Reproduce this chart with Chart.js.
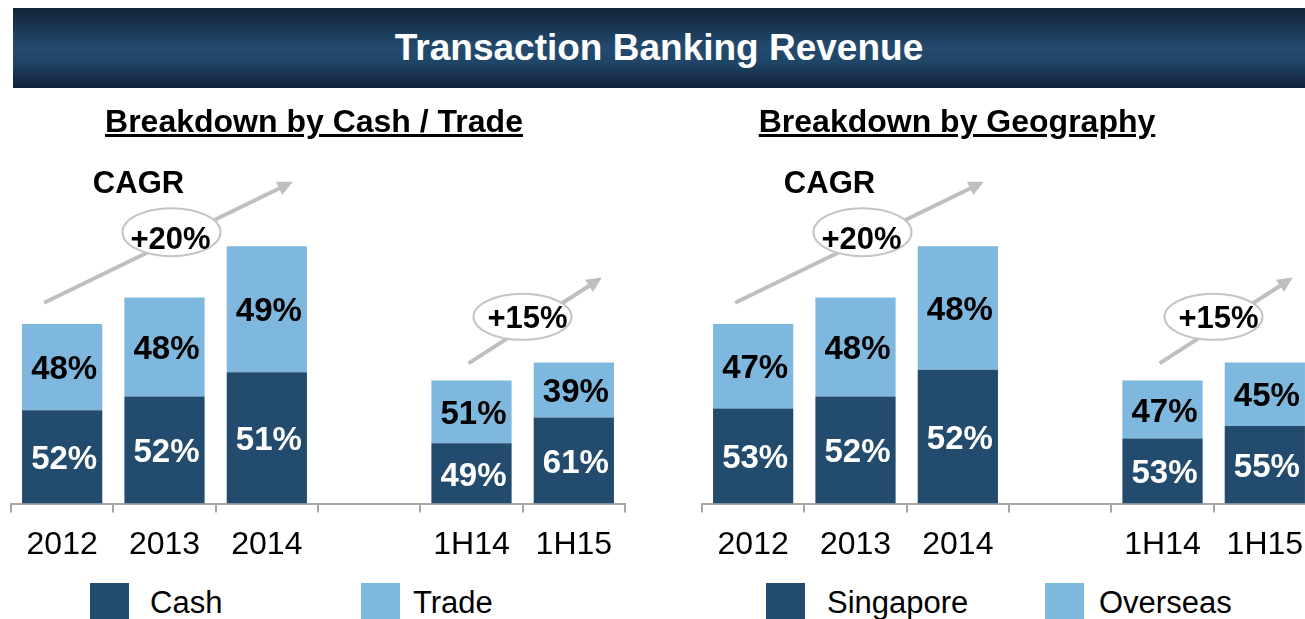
<!DOCTYPE html>
<html>
<head>
<meta charset="utf-8">
<title>Transaction Banking Revenue</title>
<script src="https://cdn.jsdelivr.net/npm/chart.js@4.4.1/dist/chart.umd.min.js"></script>
<style>
    body {
        margin: 0;
        width: 1305px;
        height: 619px;
        overflow: hidden;
        position: relative;
        background: #fff;
        font-family: 'Liberation Sans', Arial, sans-serif;
    }
    .banner {
        position: absolute;
        left: 13px;
        top: 8px;
        width: 1292px;
        height: 80px;
        line-height: 80px;
        text-align: center;
        color: #fff;
        font-size: 37px;
        font-weight: bold;
        background: linear-gradient(to bottom, #132236 0%, #1c3c5b 30%, #234b6f 50%, #1f4567 68%, #11203a 100%);
    }
    .subtitle {
        position: absolute;
        top: 103px;
        width: 600px;
        text-align: center;
        font-size: 32px;
        line-height: 36px;
        font-weight: bold;
        text-decoration: underline;
        color: #000;
        z-index: 2;
    }
    .chart-box {
        position: absolute;
        top: 99px;
    }
    .legend-item {
        position: absolute;
        top: 583px;
        height: 39px;
        font-size: 31px;
        line-height: 36px;
        color: #000;
        white-space: nowrap;
    }
    .legend-item .swatch {
        position: absolute;
        left: 0;
        top: 0;
        width: 39px;
        height: 39px;
    }
    .legend-item span {
        position: absolute;
        top: 2px;
    }
</style>
</head>
<body>
<div class="banner">Transaction Banking Revenue</div>

<div class="subtitle" style="left:14px">Breakdown by Cash / Trade</div>
<div class="subtitle" style="left:657px">Breakdown by Geography</div>

<div class="chart-box" style="left:10px"><canvas id="cashTradeChart" width="616" height="478"></canvas></div>
<div class="chart-box" style="left:701px"><canvas id="geoChart" width="616" height="478"></canvas></div>

<div id="legendCashTrade"></div>
<div id="legendGeo"></div>

<script>
// Period labels (blank slot separates full years from half years)
const periods = ['2012', '2013', '2014', '', '1H14', '1H15'];

// Total transaction banking revenue per period (S$m, estimated)
const totalRevenue = [1190, 1365, 1705, null, 815, 935];

// Share of total, %
const cashShare = [52, 52, 51, null, 49, 61];
const tradeShare = [48, 48, 49, null, 51, 39];
const singaporeShare = [53, 52, 52, null, 53, 55];
const overseasShare = [47, 48, 48, null, 47, 45];

const DARK = '#224b6e';
const LIGHT = '#7fb8de';
const FONT = "'Liberation Sans', Arial, sans-serif";

function segment(shares) {
    return totalRevenue.map((t, i) => (t == null ? null : t * shares[i] / 100));
}

// % labels centred inside each stacked segment
const segmentLabels = {
    id: 'segmentLabels',
    afterDatasetsDraw(chart) {
        const ctx = chart.ctx;
        ctx.save();
        ctx.font = 'bold 33px ' + FONT;
        ctx.textAlign = 'center';
        ctx.textBaseline = 'middle';
        chart.data.datasets.forEach((ds, i) => {
            chart.getDatasetMeta(i).data.forEach((bar, j) => {
                const share = ds.shares[j];
                if (share == null) return;
                ctx.fillStyle = ds.labelColor;
                ctx.fillText(share + '%', bar.x + 2, (bar.y + bar.base) / 2 + 3);
            });
        });
        ctx.restore();
    }
};

// CAGR arrows, ellipses and growth text; anchored on category index + value
const growthNotes = {
    arrows: [
        { from: { i: 0, dx: -18, v: 1330 }, to: { i: 2, dx: 26, v: 2132 } },
        { from: { i: 4, dx: -3, v: 929 }, to: { i: 5, dx: 28, v: 1497 } }
    ],
    bubbles: [
        { at: { i: 1, dx: 7, v: 1798 }, rx: 49, ry: 24, text: '+20%', textAt: { i: 1, dx: 6, v: 1755 } },
        { at: { i: 4, dx: 51, v: 1237 }, rx: 49, ry: 23, text: '+15%', textAt: { i: 4, dx: 56, v: 1232 } }
    ],
    caption: { text: 'CAGR', at: { i: 1, dx: -26, v: 2126 } }
};

const cagrPlugin = {
    id: 'cagrNotes',
    afterDraw(chart) {
        const ctx = chart.ctx;
        const xs = chart.scales.x;
        const ys = chart.scales.y;
        const px = p => xs.getPixelForValue(p.i) + p.dx;
        const py = p => ys.getPixelForValue(p.v);

        ctx.save();
        ctx.strokeStyle = '#bfbfbf';
        ctx.fillStyle = '#bfbfbf';
        ctx.lineWidth = 4;
        growthNotes.arrows.forEach(a => {
            const x1 = px(a.from), y1 = py(a.from);
            const x2 = px(a.to), y2 = py(a.to);
            const ang = Math.atan2(y2 - y1, x2 - x1);
            const head = 17;
            ctx.beginPath();
            ctx.moveTo(x1, y1);
            ctx.lineTo(x2 - Math.cos(ang) * head * 0.8, y2 - Math.sin(ang) * head * 0.8);
            ctx.stroke();
            ctx.beginPath();
            ctx.moveTo(x2, y2);
            ctx.lineTo(x2 - head * Math.cos(ang - 0.45), y2 - head * Math.sin(ang - 0.45));
            ctx.lineTo(x2 - head * Math.cos(ang + 0.45), y2 - head * Math.sin(ang + 0.45));
            ctx.closePath();
            ctx.fill();
        });

        ctx.lineWidth = 2;
        ctx.textAlign = 'center';
        ctx.textBaseline = 'middle';
        growthNotes.bubbles.forEach(b => {
            ctx.beginPath();
            ctx.ellipse(px(b.at), py(b.at), b.rx, b.ry, 0, 0, Math.PI * 2);
            ctx.fillStyle = '#fff';
            ctx.fill();
            ctx.strokeStyle = '#c4c4c4';
            ctx.stroke();
            ctx.fillStyle = '#000';
            ctx.font = 'bold 31px ' + FONT;
            ctx.fillText(b.text, px(b.textAt), py(b.textAt) + 2);
        });

        const c = growthNotes.caption;
        ctx.fillStyle = '#000';
        ctx.font = 'bold 31px ' + FONT;
        ctx.fillText(c.text, px(c.at), py(c.at) + 2);
        ctx.restore();
    }
};

function buildChart(canvasId, names, sharesLow, sharesHigh) {
    const ctx = document.getElementById(canvasId).getContext('2d');
    return new Chart(ctx, {
        type: 'bar',
        data: {
            labels: periods,
            datasets: [
                {
                    label: names[0],
                    data: segment(sharesLow),
                    shares: sharesLow,
                    labelColor: '#fff',
                    backgroundColor: DARK,
                    borderWidth: 0
                },
                {
                    label: names[1],
                    data: segment(sharesHigh),
                    shares: sharesHigh,
                    labelColor: '#000',
                    backgroundColor: LIGHT,
                    borderWidth: 0
                }
            ]
        },
        options: {
            responsive: false,
            animation: false,
            devicePixelRatio: 1,
            layout: { padding: { left: 1, right: 1, top: 0, bottom: 0 } },
            datasets: {
                bar: { categoryPercentage: 1, barPercentage: 0.784 }
            },
            scales: {
                x: {
                    stacked: true,
                    offset: true,
                    grid: {
                        offset: true,
                        drawOnChartArea: false,
                        drawTicks: true,
                        tickLength: 9,
                        color: '#a6a6a6',
                        lineWidth: 2
                    },
                    border: { color: '#a6a6a6', width: 2 },
                    ticks: {
                        color: '#000',
                        font: { size: 32, family: FONT },
                        padding: 13,
                        autoSkip: false,
                        maxRotation: 0
                    }
                },
                y: { stacked: true, display: false, min: 0, max: 2680 }
            },
            plugins: {
                legend: { display: false },
                tooltip: { enabled: false }
            }
        },
        plugins: [segmentLabels, cagrPlugin]
    });
}

// HTML legend built from the chart's datasets
function renderLegend(chart, containerId, slots) {
    const box = document.getElementById(containerId);
    chart.data.datasets.forEach((ds, i) => {
        const item = document.createElement('div');
        item.className = 'legend-item';
        item.style.left = slots[i].box + 'px';
        item.innerHTML = `<div class="swatch" style="background:${ds.backgroundColor}"></div>` +
            `<span style="left:${slots[i].text}px">${ds.label}</span>`;
        box.appendChild(item);
    });
}

const cashTradeChart = buildChart('cashTradeChart', ['Cash', 'Trade'], cashShare, tradeShare);
const geoChart = buildChart('geoChart', ['Singapore', 'Overseas'], singaporeShare, overseasShare);

renderLegend(cashTradeChart, 'legendCashTrade', [{ box: 90, text: 60 }, { box: 361, text: 52 }]);
renderLegend(geoChart, 'legendGeo', [{ box: 766, text: 61 }, { box: 1045, text: 54 }]);
</script>
</body>
</html>
